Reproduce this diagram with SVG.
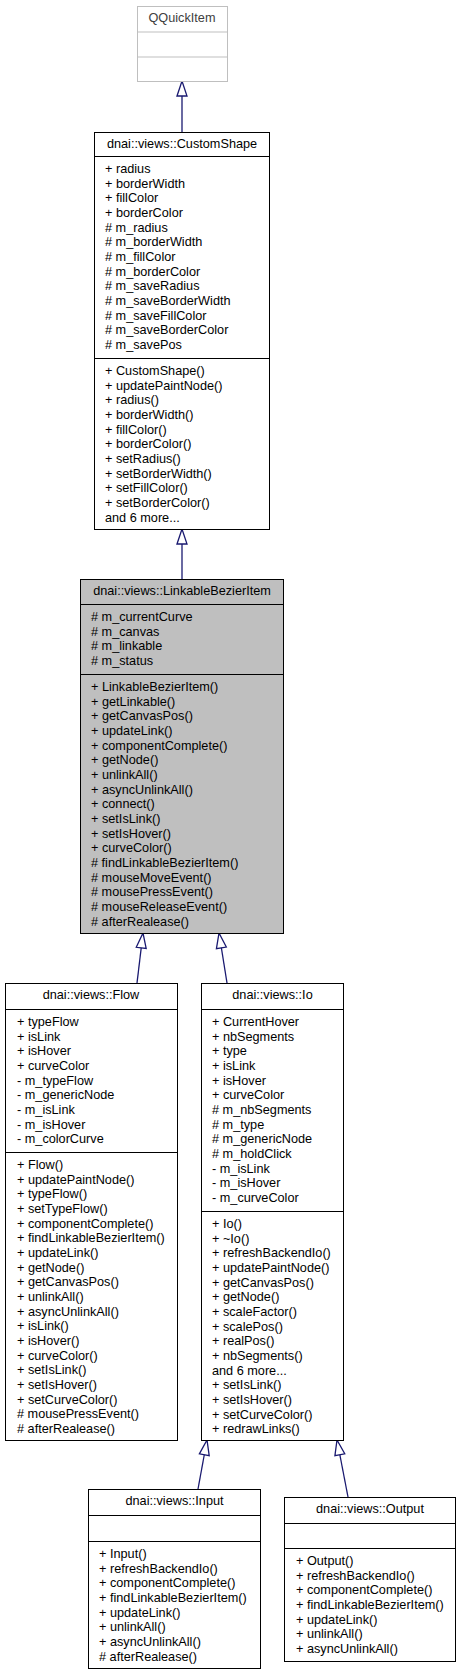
<svg xmlns="http://www.w3.org/2000/svg" width="461" height="1675" viewBox="0 0 461 1675">
<style>
text{font-family:"Liberation Sans",Arial,sans-serif;font-size:12.7px;fill:#000}
.t{text-anchor:middle}
.box{fill:#fff;stroke:#000;stroke-width:1}
.hl{fill:#bfbfbf;stroke:#000;stroke-width:1}
.ext{fill:#fff;stroke:#bfbfbf;stroke-width:1}
.ln{stroke:#000;stroke-width:1}
.lne{stroke:#bfbfbf;stroke-width:1}
.g{fill:#404040}
.e{fill:none;stroke:#191970;stroke-width:1.3}
</style>
<defs>
<marker id="tri" viewBox="0 0 15 10" refX="15" refY="5" markerWidth="15" markerHeight="10" markerUnits="userSpaceOnUse" orient="auto" overflow="visible">
<path d="M0,0 L15,5 L0,10 Z" fill="#fff" stroke="#191970" stroke-width="1.3"/>
</marker>
</defs>
<g id="edges">
<path class="e" d="M182,132 L182,81" marker-end="url(#tri)"/>
<path class="e" d="M182,579 L182,529" marker-end="url(#tri)"/>
<path class="e" d="M137,983 L143,933" marker-end="url(#tri)"/>
<path class="e" d="M227,983 L219,933" marker-end="url(#tri)"/>
<path class="e" d="M198,1489 L207,1440" marker-end="url(#tri)"/>
<path class="e" d="M348,1497 L337,1440" marker-end="url(#tri)"/>
</g>
<g id="QQuickItem">
<rect class="ext" x="137.5" y="6.5" width="90" height="75"/>
<line class="lne" x1="137.5" y1="32" x2="227.5" y2="32"/>
<line class="lne" x1="137.5" y1="57" x2="227.5" y2="57"/>
<text class="t g" x="182" y="22">QQuickItem</text>
</g>
<g id="CustomShape">
<rect class="box" x="94.5" y="132.5" width="175" height="397"/>
<line class="ln" x1="94.5" y1="156.5" x2="269.5" y2="156.5"/>
<line class="ln" x1="94.5" y1="358.5" x2="269.5" y2="358.5"/>
<text class="t" x="182" y="148">dnai::views::CustomShape</text>
<text x="105" y="173">+ radius</text>
<text x="105" y="187.67">+ borderWidth</text>
<text x="105" y="202.33">+ fillColor</text>
<text x="105" y="217">+ borderColor</text>
<text x="105" y="231.67"># m_radius</text>
<text x="105" y="246.33"># m_borderWidth</text>
<text x="105" y="261"># m_fillColor</text>
<text x="105" y="275.67"># m_borderColor</text>
<text x="105" y="290.33"># m_saveRadius</text>
<text x="105" y="305"># m_saveBorderWidth</text>
<text x="105" y="319.67"># m_saveFillColor</text>
<text x="105" y="334.33"># m_saveBorderColor</text>
<text x="105" y="349"># m_savePos</text>
<text x="105" y="375">+ CustomShape()</text>
<text x="105" y="389.67">+ updatePaintNode()</text>
<text x="105" y="404.33">+ radius()</text>
<text x="105" y="419">+ borderWidth()</text>
<text x="105" y="433.67">+ fillColor()</text>
<text x="105" y="448.33">+ borderColor()</text>
<text x="105" y="463">+ setRadius()</text>
<text x="105" y="477.67">+ setBorderWidth()</text>
<text x="105" y="492.33">+ setFillColor()</text>
<text x="105" y="507">+ setBorderColor()</text>
<text x="105" y="521.67">and 6 more...</text>
</g>
<g id="LinkableBezierItem">
<rect class="hl" x="80.5" y="579.5" width="203" height="354"/>
<line class="ln" x1="80.5" y1="604.5" x2="283.5" y2="604.5"/>
<line class="ln" x1="80.5" y1="674.5" x2="283.5" y2="674.5"/>
<text class="t" x="182" y="595">dnai::views::LinkableBezierItem</text>
<text x="91" y="621"># m_currentCurve</text>
<text x="91" y="635.67"># m_canvas</text>
<text x="91" y="650.33"># m_linkable</text>
<text x="91" y="665"># m_status</text>
<text x="91" y="691">+ LinkableBezierItem()</text>
<text x="91" y="705.67">+ getLinkable()</text>
<text x="91" y="720.33">+ getCanvasPos()</text>
<text x="91" y="735">+ updateLink()</text>
<text x="91" y="749.67">+ componentComplete()</text>
<text x="91" y="764.33">+ getNode()</text>
<text x="91" y="779">+ unlinkAll()</text>
<text x="91" y="793.67">+ asyncUnlinkAll()</text>
<text x="91" y="808.33">+ connect()</text>
<text x="91" y="823">+ setIsLink()</text>
<text x="91" y="837.67">+ setIsHover()</text>
<text x="91" y="852.33">+ curveColor()</text>
<text x="91" y="867"># findLinkableBezierItem()</text>
<text x="91" y="881.67"># mouseMoveEvent()</text>
<text x="91" y="896.33"># mousePressEvent()</text>
<text x="91" y="911"># mouseReleaseEvent()</text>
<text x="91" y="925.67"># afterRealease()</text>
</g>
<g id="Flow">
<rect class="box" x="5.5" y="983.5" width="172" height="457"/>
<line class="ln" x1="5.5" y1="1009.5" x2="177.5" y2="1009.5"/>
<line class="ln" x1="5.5" y1="1152.5" x2="177.5" y2="1152.5"/>
<text class="t" x="91" y="999">dnai::views::Flow</text>
<text x="17" y="1026">+ typeFlow</text>
<text x="17" y="1040.67">+ isLink</text>
<text x="17" y="1055.33">+ isHover</text>
<text x="17" y="1070">+ curveColor</text>
<text x="17" y="1084.67">- m_typeFlow</text>
<text x="17" y="1099.33">- m_genericNode</text>
<text x="17" y="1114">- m_isLink</text>
<text x="17" y="1128.67">- m_isHover</text>
<text x="17" y="1143.33">- m_colorCurve</text>
<text x="17" y="1169">+ Flow()</text>
<text x="17" y="1183.67">+ updatePaintNode()</text>
<text x="17" y="1198.33">+ typeFlow()</text>
<text x="17" y="1213">+ setTypeFlow()</text>
<text x="17" y="1227.67">+ componentComplete()</text>
<text x="17" y="1242.33">+ findLinkableBezierItem()</text>
<text x="17" y="1257">+ updateLink()</text>
<text x="17" y="1271.67">+ getNode()</text>
<text x="17" y="1286.33">+ getCanvasPos()</text>
<text x="17" y="1301">+ unlinkAll()</text>
<text x="17" y="1315.67">+ asyncUnlinkAll()</text>
<text x="17" y="1330.33">+ isLink()</text>
<text x="17" y="1345">+ isHover()</text>
<text x="17" y="1359.67">+ curveColor()</text>
<text x="17" y="1374.33">+ setIsLink()</text>
<text x="17" y="1389">+ setIsHover()</text>
<text x="17" y="1403.67">+ setCurveColor()</text>
<text x="17" y="1418.33"># mousePressEvent()</text>
<text x="17" y="1433"># afterRealease()</text>
</g>
<g id="Io">
<rect class="box" x="201.5" y="983.5" width="142" height="457"/>
<line class="ln" x1="201.5" y1="1009.5" x2="343.5" y2="1009.5"/>
<line class="ln" x1="201.5" y1="1211.5" x2="343.5" y2="1211.5"/>
<text class="t" x="272.5" y="999">dnai::views::Io</text>
<text x="212" y="1026">+ CurrentHover</text>
<text x="212" y="1040.67">+ nbSegments</text>
<text x="212" y="1055.33">+ type</text>
<text x="212" y="1070">+ isLink</text>
<text x="212" y="1084.67">+ isHover</text>
<text x="212" y="1099.33">+ curveColor</text>
<text x="212" y="1114"># m_nbSegments</text>
<text x="212" y="1128.67"># m_type</text>
<text x="212" y="1143.33"># m_genericNode</text>
<text x="212" y="1158"># m_holdClick</text>
<text x="212" y="1172.67">- m_isLink</text>
<text x="212" y="1187.33">- m_isHover</text>
<text x="212" y="1202">- m_curveColor</text>
<text x="212" y="1228">+ Io()</text>
<text x="212" y="1242.67">+ ~Io()</text>
<text x="212" y="1257.33">+ refreshBackendIo()</text>
<text x="212" y="1272">+ updatePaintNode()</text>
<text x="212" y="1286.67">+ getCanvasPos()</text>
<text x="212" y="1301.33">+ getNode()</text>
<text x="212" y="1316">+ scaleFactor()</text>
<text x="212" y="1330.67">+ scalePos()</text>
<text x="212" y="1345.33">+ realPos()</text>
<text x="212" y="1360">+ nbSegments()</text>
<text x="212" y="1374.67">and 6 more...</text>
<text x="212" y="1389.33">+ setIsLink()</text>
<text x="212" y="1404">+ setIsHover()</text>
<text x="212" y="1418.67">+ setCurveColor()</text>
<text x="212" y="1433.33">+ redrawLinks()</text>
</g>
<g id="Input">
<rect class="box" x="88.5" y="1489.5" width="172" height="179"/>
<line class="ln" x1="88.5" y1="1515.5" x2="260.5" y2="1515.5"/>
<line class="ln" x1="88.5" y1="1541.5" x2="260.5" y2="1541.5"/>
<text class="t" x="174.5" y="1505">dnai::views::Input</text>
<text x="99" y="1558">+ Input()</text>
<text x="99" y="1572.67">+ refreshBackendIo()</text>
<text x="99" y="1587.33">+ componentComplete()</text>
<text x="99" y="1602">+ findLinkableBezierItem()</text>
<text x="99" y="1616.67">+ updateLink()</text>
<text x="99" y="1631.33">+ unlinkAll()</text>
<text x="99" y="1646">+ asyncUnlinkAll()</text>
<text x="99" y="1660.67"># afterRealease()</text>
</g>
<g id="Output">
<rect class="box" x="284.5" y="1497.5" width="171" height="164"/>
<line class="ln" x1="284.5" y1="1523.5" x2="455.5" y2="1523.5"/>
<line class="ln" x1="284.5" y1="1548.5" x2="455.5" y2="1548.5"/>
<text class="t" x="370" y="1513">dnai::views::Output</text>
<text x="296" y="1565">+ Output()</text>
<text x="296" y="1579.67">+ refreshBackendIo()</text>
<text x="296" y="1594.33">+ componentComplete()</text>
<text x="296" y="1609">+ findLinkableBezierItem()</text>
<text x="296" y="1623.67">+ updateLink()</text>
<text x="296" y="1638.33">+ unlinkAll()</text>
<text x="296" y="1653">+ asyncUnlinkAll()</text>
</g>
</svg>
